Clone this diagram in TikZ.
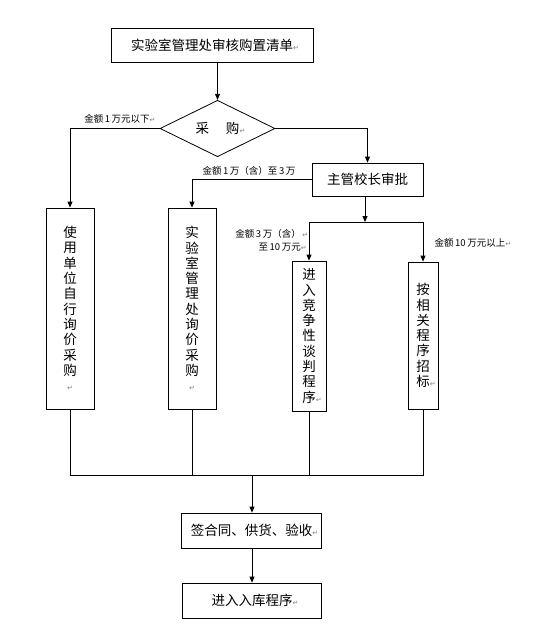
\documentclass[tikz,border=0pt]{standalone}
\usepackage{fontspec}
\setmainfont{Noto Sans CJK SC}
\newfontfamily\djv{DejaVu Sans}
\usetikzlibrary{arrows.meta,shapes.geometric}
\newcommand{\retmark}{{\djv\color{gray}\fontsize{7}{7}\selectfont ↵}}
\begin{document}
\begin{tikzpicture}[x=1pt,y=-1pt,
  box/.style={draw, line width=0.8pt, inner sep=0pt, align=center, font=\fontsize{13.5}{15}\selectfont},
  vbox/.style={box, font=\fontsize{13.5}{15.3}\selectfont},
  lbl/.style={inner sep=0pt, align=right, font=\fontsize{9.5}{13}\selectfont},
  line/.style={line width=0.8pt},
  arr/.style={line, -{Triangle[width=5pt,length=6pt]}}]
\useasboundingbox (0,0) rectangle (533,637);

\node[box, minimum width=202, minimum height=34] (top) at (212,45) {实验室管理处审核购置清单\rlap{\retmark}};
\node[box, shape=diamond, minimum width=115, minimum height=51] (dia) at (217.5,128.5) {采\hspace{17pt}购\rlap{\retmark}};
\node[box, minimum width=111, minimum height=33] (zg) at (367.5,179.5) {主管校长审批};

\node[vbox, minimum width=48, minimum height=201] (v1) at (70,308.5) {使\\用\\单\\位\\自\\行\\询\\价\\采\\购\\\retmark};
\node[vbox, minimum width=48, minimum height=201] (v2) at (192,308.5) {实\\验\\室\\管\\理\\处\\询\\价\\采\\购\\\retmark};
\node[vbox, minimum width=34, minimum height=150] (v3) at (309,336) {进\\入\\竞\\争\\性\\谈\\判\\程\\序\rlap{\retmark}};
\node[vbox, minimum width=30, minimum height=147] (v4) at (423,335.5) {按\\相\\关\\程\\序\\招\\标\rlap{\retmark}};

\node[box, minimum width=140, minimum height=35] (b5) at (251.5,530.5) {签合同、供货、验收\rlap{\retmark}};
\node[box, minimum width=139, minimum height=35] (b6) at (252,600.5) {进入入库程序\rlap{\retmark}};

% labels
\node[lbl] (l1) at (117,119) {金额\,1\,万元以下\rlap{\retmark}};
\node[lbl] (l2) at (249,171) {金额\,1\,万（含）至\,3\,万};
\node[lbl, anchor=east] (l3) at (301,240) {金额\,3\,万（含）\rlap{\,\retmark}\\至\,10\,万元\rlap{\retmark}};
\node[lbl] (l4) at (470,243) {金额\,10\,万元以上\rlap{\retmark}};

% connectors
\draw[arr] (dia.north |- top.south) -- (dia.north);
\draw[arr] (dia.west) -| (v1.north);
\draw[arr] (dia.east) -| (zg.north);
\draw[arr] (zg.west) -| (v2.north);
\coordinate (sp) at (365,222);
\draw[arr] (zg.south -| sp) -- (sp);
\draw[arr] (sp) -| (v3.north);
\draw[arr] (sp) -| (v4.north);

\coordinate (jn) at (252,475);
\draw[line] (v1.south) -- (v1.south |- jn) -- (v4.south |- jn) -- (v4.south);
\draw[line] (v2.south) -- (v2.south |- jn);
\draw[line] (v3.south) -- (v3.south |- jn);
\draw[arr] (jn) -- (jn |- b5.north);
\draw[arr] (jn |- b5.south) -- (jn |- b6.north);
\end{tikzpicture}
\end{document}
